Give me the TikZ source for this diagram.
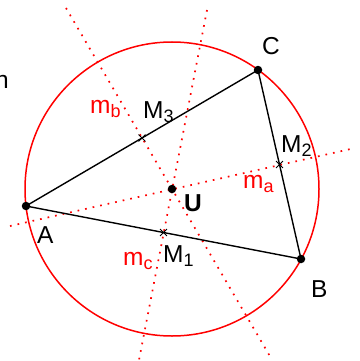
\documentclass[tikz,border=0pt]{standalone}
\usepackage{fontspec}
\setmainfont{Liberation Sans}
\usepackage{xcolor}
\usepackage{tikz}
\usetikzlibrary{positioning,calc,shapes.misc}
\newcommand{\idx}[1]{\raisebox{-0.35ex}{\fontsize{18}{18}\selectfont #1}}
\tikzset{
  side/.style={draw=black, line width=1.4pt},
  circum/.style={draw=red, line width=1.5pt},
  bisect/.style={draw=red, line width=1.7pt, dash pattern=on 1.7pt off 6pt},
  vtx/.style={circle, fill=black, inner sep=0pt, minimum size=8.5pt},
  midpt/.style={cross out, draw=black, line width=0.9pt, inner sep=0pt, minimum size=6pt},
  lbl/.style={inner sep=0pt, font=\fontsize{24.5}{27}\selectfont},
  rlbl/.style={lbl, text=red},
}

\begin{document}
\begin{tikzpicture}[x=1pt,y=-1pt]
\useasboundingbox (0,0) rectangle (359,361);
% triangle corners and circumcentre
\coordinate (A) at (26,206);
\coordinate (B) at (301,259);
\coordinate (C) at (258,70);
\coordinate (U) at (172,189);
% ends of the bisectors
\coordinate (ma1) at (10,226);
\coordinate (ma2) at (355,148);
\coordinate (mb1) at (66,8);
\coordinate (mb2) at (271,358);
\coordinate (mc1) at (207,10);
\coordinate (mc2) at (139,360);

\draw[circum] (U) circle[radius=147pt];
\draw[bisect] (ma1)--(ma2);
\draw[bisect] (mb1)--(mb2);
\draw[bisect] (mc1)--(mc2);
\draw[side] (A)--(B)--(C)--cycle;

\node[midpt] (M1) at ($(A)!0.5!(B)$) {};
\node[midpt] (M2) at ($(B)!0.5!(C)$) {};
\node[midpt] (M3) at ($(A)!0.5!(C)$) {};
\node[vtx] (pA) at (A) {};
\node[vtx] (pB) at (B) {};
\node[vtx] (pC) at (C) {};
\node[vtx] (pU) at (U) {};

% labels
\node[lbl, anchor=base east] (n) at (9,88) {n};
\node[lbl, anchor=base west] (tA) at (37,243) {A};
\node[lbl, anchor=base west] (tB) at (311,297) {B};
\node[lbl, anchor=base west] (tC) at (262,55) {C};
\node[lbl, anchor=base west, font=\fontsize{24.5}{27}\selectfont\bfseries] (tU) at (184,211) {U};
\node[lbl, anchor=base west] (tM1) at (163,262) {M\idx{1}};
\node[lbl, anchor=base west] (tM2) at (281,152) {M\idx{2}};
\node[lbl, anchor=base west] (tM3) at (143,118) {M\idx{3}};
\node[rlbl, anchor=base west] (tma) at (243,188) {m\idx{a}};
\node[rlbl, anchor=base west] (tmb) at (90,113) {m\idx{b}};
\node[rlbl, anchor=base west] (tmc) at (123,265) {m\idx{c}};
\end{tikzpicture}
\end{document}
